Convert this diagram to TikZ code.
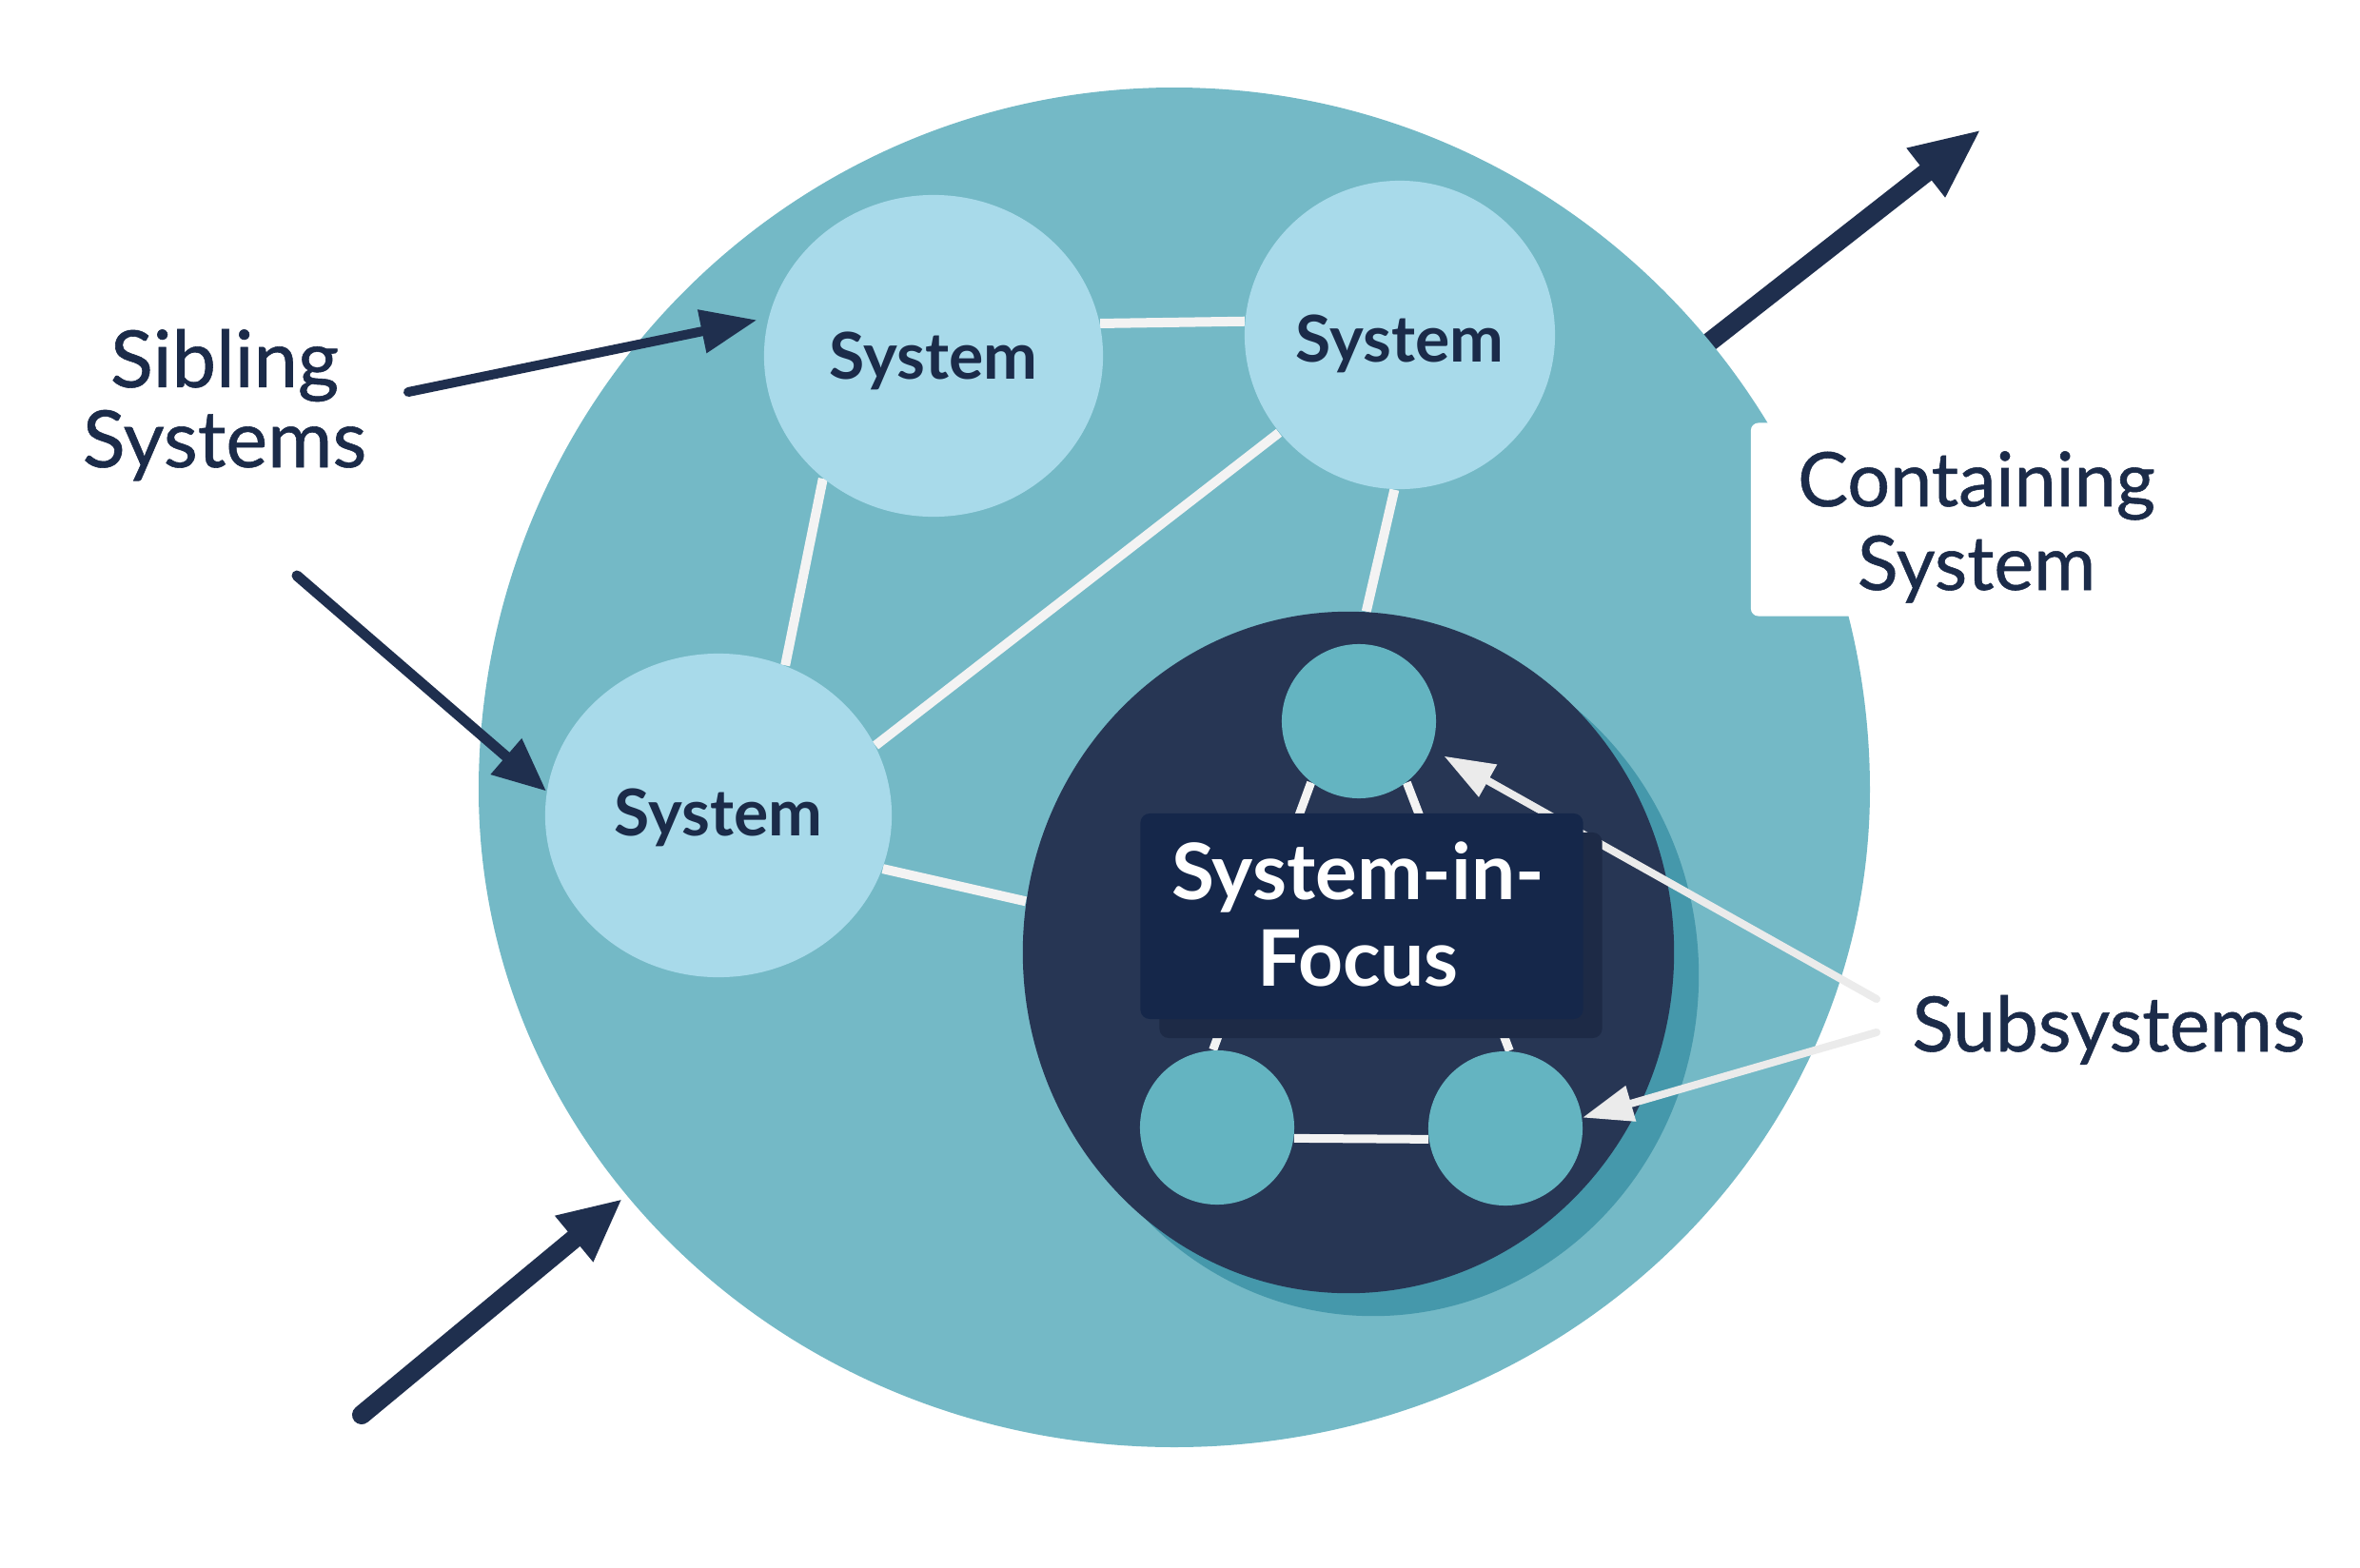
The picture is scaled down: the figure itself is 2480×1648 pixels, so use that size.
\documentclass[tikz,border=0pt]{standalone}
\usepackage{fontspec}
\setmainfont{Lato}
\newfontfamily\medfont{Lato}[FakeBold=0.7]
\usetikzlibrary{shapes.geometric,arrows.meta}
\definecolor{blobc}{HTML}{74B9C6}
\definecolor{sibc}{HTML}{A8DAEA}
\definecolor{focc}{HTML}{273654}
\definecolor{focsh}{HTML}{4598AB}
\definecolor{subc}{HTML}{64B4C1}
\definecolor{boxc}{HTML}{15274A}
\definecolor{boxsh}{HTML}{1D2A46}
\definecolor{arrc}{HTML}{1F2F4E}
\definecolor{txtc}{HTML}{1B2B49}
\definecolor{wlc}{HTML}{F3F3F3}
\definecolor{warrc}{HTML}{EBEBEB}
\pgfdeclarelayer{l0}
\pgfdeclarelayer{l1}
\pgfdeclarelayer{l2}
\pgfdeclarelayer{l3}
\pgfdeclarelayer{l4}
\pgfdeclarelayer{l5}
\pgfdeclarelayer{l6}
\pgfsetlayers{l0,l1,l2,l3,l4,l5,l6,main}
\begin{document}
\begin{tikzpicture}[x=0.01cm,y=-0.01cm,
  sib/.style={ellipse, fill=sibc, inner sep=0pt, text=txtc,
    font=\fontsize{19.3}{22}\selectfont\bfseries, text depth=0pt},
  subnode/.style={circle, fill=subc, minimum size=1.62cm, inner sep=0pt},
  wline/.style={draw=wlc, line width=0.1cm},
  sline/.style={draw=wlc, line width=0.09cm},
  darr/.style={draw=arrc, fill=arrc, line cap=round},
  warr/.style={draw=warrc, fill=warrc, line width=0.08cm, line cap=round,
    -{Triangle[length=0.53cm,width=0.37cm]}},
  lab/.style={text=txtc, align=center, anchor=base, inner sep=0pt}
]
\useasboundingbox (0,0) rectangle (2480,1648);

% ---------- layer 0: background and outgoing arrow ----------
\begin{pgfonlayer}{l0}
\fill[white] (0,0) rectangle (2480,1648);
\coordinate (bstart) at (1760,388);
\coordinate (btip) at (2082,136);
\draw[darr, line width=0.2cm, line cap=butt, -{Triangle[length=0.74cm,width=0.6cm]}] (bstart) -- (btip);
\end{pgfonlayer}

% ---------- layer 1: containing system (egg-shaped region) ----------
\begin{pgfonlayer}{l1}
\fill[blobc] (503,830) arc[start angle=180, end angle=360, x radius=731, y radius=738]
  arc[start angle=0, end angle=180, x radius=731, y radius=691] -- cycle;
\end{pgfonlayer}

% ---------- layer 3: sibling systems and system-in-focus ----------
\begin{pgfonlayer}{l3}
\node[sib, minimum width=3.56cm, minimum height=3.38cm, text height=0.48cm] (tl) at (981,374) {System};
\node[sib, minimum width=3.26cm, minimum height=3.24cm, text height=0.56cm] (tr) at (1471,352) {System};
\node[sib, minimum width=3.64cm, minimum height=3.40cm, text height=0.42cm] (lc) at (755,857) {System};
\node[ellipse, fill=focsh, minimum width=6.84cm, minimum height=7.16cm, inner sep=0pt] (fsh) at (1443,1025) {};
\node[ellipse, fill=focc, minimum width=6.84cm, minimum height=7.16cm, inner sep=0pt] (foc) at (1417,1001) {};
\end{pgfonlayer}

% ---------- layer 2: links between sibling systems ----------
\begin{pgfonlayer}{l2}
\draw[wline] (tl.11) -- (tr.175);
\draw[wline] (tl.228) -- (lc.66);
\draw[wline] (tr.219) -- (lc.24);
\draw[wline] (tr.268) -- (foc.87);
\draw[wline] (lc.342) -- (foc.171);
\end{pgfonlayer}

% ---------- layer 5: subsystems ----------
\begin{pgfonlayer}{l5}
\node[subnode] (sA) at (1428,758) {};
\node[subnode] (sB) at (1279,1185) {};
\node[subnode] (sC) at (1582,1186) {};
\end{pgfonlayer}

% ---------- layer 4: links between subsystems ----------
\begin{pgfonlayer}{l4}
\draw[sline] (sA.232) -- (sB.93);
\draw[sline] (sA.308) -- (sC.87);
\draw[sline] (sB.352) -- (sC.188);
\end{pgfonlayer}

% ---------- layer 6: white pointers to the subsystems ----------
\begin{pgfonlayer}{l6}
\coordinate (ss1) at (1972,1050);
\coordinate (ss2) at (1972,1085);
\draw[warr, shorten >=0.15cm] (ss1) -- (sA.339);
\draw[warr] (ss2) -- (sC.8);
\end{pgfonlayer}

% ---------- main layer: label box, labels, dark arrows ----------
\node[rectangle, rounded corners=0.1cm, fill=boxsh, minimum width=4.65cm, minimum height=2.16cm] (fboxsh) at (1451,983) {};
\node[rectangle, rounded corners=0.1cm, fill=boxc, minimum width=4.65cm, minimum height=2.16cm] (fbox) at (1431,963) {};
\node[anchor=base, align=center, text=white, inner sep=0pt,
  font=\fontsize{23.3}{25.6}\selectfont\bfseries] (flab) at (1427,1036) {System-in-\\Focus};

\node[rectangle, rounded corners=0.08cm, fill=white, minimum width=4.7cm, minimum height=2.03cm] (cbox) at (2075,546) {};
\node[lab, font=\medfont\fontsize{22.5}{25}\selectfont] (clab) at (2077,620) {Containing\\System};

\node[lab, font=\medfont\fontsize{23.6}{23.9}\selectfont] (siblab) at (236,491) {Sibling\\Systems};
\node[lab, font=\medfont\fontsize{22.8}{23.9}\selectfont] (sublab) at (2216,1105) {Subsystems};

\coordinate (a1s) at (429,412);
\coordinate (a2s) at (312,605);
\draw[darr, line width=0.1cm, -{Triangle[length=0.59cm,width=0.44cm]}, shorten >=0.12cm] (a1s) -- (tl.167);
\draw[darr, line width=0.11cm, -{Triangle[length=0.56cm,width=0.47cm]}] (a2s) -- (lc.172);

\coordinate (a3s) at (380,1487);
\coordinate (a3t) at (654,1260);
\draw[darr, line width=0.2cm, -{Triangle[length=0.66cm,width=0.58cm]}] (a3s) -- (a3t);
\end{tikzpicture}
\end{document}
